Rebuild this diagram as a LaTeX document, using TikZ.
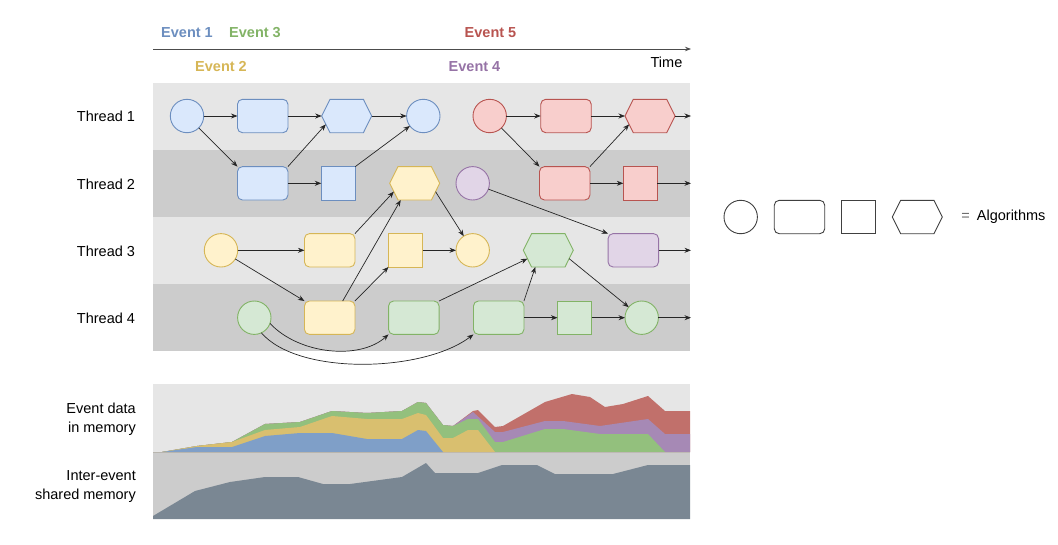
\documentclass[tikz,border=0pt]{standalone}
\usepackage{fontspec}
\setmainfont{Liberation Sans}
\usetikzlibrary{arrows.meta,calc}
\definecolor{bluef}{HTML}{DAE8FC}\definecolor{blued}{HTML}{6C8EBF}
\definecolor{yelf}{HTML}{FFF2CC}\definecolor{yeld}{HTML}{D6B656}
\definecolor{grnf}{HTML}{D5E8D4}\definecolor{grnd}{HTML}{82B366}
\definecolor{redf}{HTML}{F8CECC}\definecolor{redd}{HTML}{B85450}
\definecolor{purf}{HTML}{E1D5E7}\definecolor{purd}{HTML}{9673A6}
\definecolor{bandL}{HTML}{E6E6E6}\definecolor{bandD}{HTML}{CCCCCC}
\definecolor{chBlue}{HTML}{7F9FC8}\definecolor{chYel}{HTML}{D9BF6F}
\definecolor{chGrn}{HTML}{93C07D}\definecolor{chPur}{HTML}{A689B5}
\definecolor{chRed}{HTML}{C1706B}\definecolor{chGray}{HTML}{7A8793}
\tikzset{
  lbl/.style={font=\fontsize{14.5}{17}\selectfont, inner sep=0pt},
  evt/.style={font=\fontsize{14.5}{17}\selectfont\bfseries, inner sep=0pt},
  alg/.style={line width=0.9pt, inner sep=0pt, outer sep=0pt},
  circ/.style={alg, circle, minimum size=33.4pt},
  rrect/.style={alg, rectangle, rounded corners=5pt, minimum width=50.5pt, minimum height=33.4pt},
  sq/.style={alg, rectangle, minimum width=34pt, minimum height=33.4pt},
  hexb/.style={alg, rectangle, minimum width=50pt, minimum height=33.4pt},
  cb/.style={fill=bluef, draw=blued}, cy/.style={fill=yelf, draw=yeld},
  cg/.style={fill=grnf, draw=grnd}, cr/.style={fill=redf, draw=redd},
  cp/.style={fill=purf, draw=purd}, cl/.style={fill=white, draw=black!75},
  arr/.style={-{Stealth[length=6.5pt,width=5pt]}, line width=0.7pt, black!85},
}
\newcommand{\hexa}[5]{%
  \node[hexb] (#1) at (#2,#3) {};
  \draw[line width=0.9pt, fill=#4, draw=#5] (#2-25,#3) -- (#2-16.7,#3-16.7) -- (#2+16.7,#3-16.7) -- (#2+25,#3) -- (#2+16.7,#3+16.7) -- (#2-16.7,#3+16.7) -- cycle;
  \coordinate (#1-ll) at (#2-20.85,#3+8.35);
  \coordinate (#1-lr) at (#2+20.85,#3+8.35);
}
\begin{document}
\begin{tikzpicture}[x=1pt,y=-1pt]
\useasboundingbox (0,0) rectangle (1058,544);
% time axis
\coordinate (t0) at (153,49);
\coordinate (t1) at (691,49);
\draw[-{Stealth[length=6pt,width=4.5pt]}, line width=0.8pt, black!70] (t0) -- (t1);
\node[lbl] (time) at (666.5,62) {Time};
\node[evt, text=blued] (ev1) at (187,32.5) {Event 1};
\node[evt, text=grnd] (ev3) at (255,32.5) {Event 3};
\node[evt, text=redd] (ev5) at (490.5,32.5) {Event 5};
\node[evt, text=yeld] (ev2) at (221,67) {Event 2};
\node[evt, text=purd] (ev4) at (474.5,67) {Event 4};
% bands
\fill[bandL] (153,83) rectangle (690,150);
\fill[bandD] (153,150) rectangle (690,217);
\fill[bandL] (153,217) rectangle (690,284);
\fill[bandD] (153,284) rectangle (690,351);
\node[lbl] (th1) at (106,116.5) {Thread 1};
\node[lbl] (th2) at (106,184) {Thread 2};
\node[lbl] (th3) at (106,251) {Thread 3};
\node[lbl] (th4) at (106,318) {Thread 4};
% thread 1
\node[circ,cb] (a1) at (187,116) {};
\node[rrect,cb] (a2) at (262.7,116) {};
\hexa{a3}{346.7}{116}{bluef}{blued}
\node[circ,cb] (a4) at (423.3,116) {};
\node[circ,cr] (e1) at (489.7,116) {};
\node[rrect,cr] (e2) at (566,116) {};
\hexa{e3}{650}{116}{redf}{redd}
% thread 2
\node[rrect,cb] (b1) at (262.7,183.3) {};
\node[sq,cb] (b2) at (338.3,183.3) {};
\hexa{y1}{414.7}{183.3}{yelf}{yeld}
\node[circ,cp] (p1) at (472.7,183.3) {};
\node[rrect,cr] (e4) at (564.7,183.3) {};
\node[sq,cr] (e5) at (640.3,183.3) {};
% thread 3
\node[circ,cy] (y2) at (221,250.3) {};
\node[rrect,cy] (y3) at (329.7,250.3) {};
\node[sq,cy] (y4) at (405.5,250.3) {};
\node[circ,cy] (y5) at (472.7,250.3) {};
\hexa{g1}{548.3}{250.3}{grnf}{grnd}
\node[rrect,cp] (p2) at (633.3,250.3) {};
% thread 4
\node[circ,cg] (g2) at (254.3,317.7) {};
\node[rrect,cy] (y6) at (329.7,317.7) {};
\node[rrect,cg] (g3) at (413.8,317.7) {};
\node[rrect,cg] (g4) at (498.7,317.7) {};
\node[sq,cg] (g5) at (574.5,317.7) {};
\node[circ,cg] (g6) at (641.7,317.7) {};
\coordinate (o1) at (691,116);
\coordinate (o2) at (691,183.3);
\coordinate (o3) at (691,250.3);
\coordinate (o4) at (691,317.7);
% connectors
\draw[arr] (a1) -- (a2);
\draw[arr] (a1) -- (b1.north west);
\draw[arr] (a2) -- (a3.west);
\draw[arr] (b1.north east) -- (a3-ll);
\draw[arr, line width=1.2pt] (b1) -- (b2);
\draw[arr] (b2.north east) -- (a4);
\draw[arr] (a3.east) -- (a4);
\draw[arr] (e1) -- (e2);
\draw[arr] (e2) -- (e3.west);
\draw[arr] (e3.east) -- (o1);
\draw[arr] (e1) -- (e4.north west);
\draw[arr] (e4.north east) -- (e3-ll);
\draw[arr] (e4) -- (e5);
\draw[arr] (e5) -- (o2);
\draw[arr] (y2) -- (y3);
\draw[arr] (y2) -- (y6.north west);
\draw[arr] (y3.north east) -- (y1-ll);
\draw[arr] ($(y6.north)+(13,0)$) -- ($(y1.south)+(-14,0)$);
\draw[arr] (y6.north east) -- (y4.south west);
\draw[arr] (y4) -- (y5);
\draw[arr] (y1-lr) -- (y5);
\draw[arr] (p1) -- (p2.north west);
\draw[arr] (p2) -- (o3);
\draw[arr] (g2.-20) .. controls ($(g2.-20)+(29,31)$) and ($(g3.south west)+(-29,26)$) .. (g3.south west);
\draw[arr] (g2.-65) .. controls ($(g2.-65)+(37,43)$) and ($(g4.south west)+(-50,38)$) .. (g4.south west);
\draw[arr] (g3.north east) -- (g1-ll);
\draw[arr] (g4.north east) -- ($(g1.south)+(-13,0)$);
\draw[arr] (g4) -- (g5);
\draw[arr] (g5) -- (g6);
\draw[arr] (g1-lr) -- (g6);
\draw[arr] (g6) -- (o4);
% legend
\node[circ,cl] (l1) at (740.7,217) {};
\node[rrect,cl] (l2) at (799.5,217) {};
\node[sq,cl] (l3) at (858.3,217) {};
\hexa{l4}{917.3}{217}{white}{black!75}
\node[lbl, text=black!60] (leq) at (965.7,217) {=};
\node[lbl, anchor=west] (lalg) at (976.7,217) {Algorithms};
% memory chart
\fill[bandL] (153,384) rectangle (690,452);
\fill[bandD] (153,452) rectangle (690,519);
\fill[chRed] (153,452) -- (162,452) -- (197,446) -- (232,442) -- (265,424) -- (300,422) -- (332,411) -- (367,413) -- (402,411) -- (418,402) -- (426,403) -- (443,425) -- (453,426) -- (473,411) -- (478,410) -- (495,427) -- (503,426) -- (545,402) -- (572,394) -- (590,397) -- (605,407) -- (623,404) -- (648,396) -- (665,411) -- (690,411) -- (690,452) -- cycle;
\fill[chPur] (153,452) -- (162,452) -- (197,446) -- (232,442) -- (265,424) -- (300,422) -- (332,411) -- (367,413) -- (402,411) -- (418,402) -- (426,403) -- (443,425) -- (453,426) -- (473,412) -- (495,432) -- (503,432) -- (545,421) -- (563,421) -- (600,426) -- (648,419) -- (665,434) -- (690,434) -- (690,452) -- cycle;
\fill[chGrn] (153,452) -- (162,452) -- (197,446) -- (232,442) -- (265,424) -- (300,422) -- (332,411) -- (367,413) -- (402,411) -- (418,402) -- (426,403) -- (443,425) -- (453,426) -- (468,419) -- (478,419) -- (495,442) -- (503,442) -- (545,429) -- (563,429) -- (600,434) -- (648,434) -- (665,452) -- (690,452) -- cycle;
\fill[chYel] (153,452) -- (162,452) -- (197,446) -- (232,442) -- (265,430) -- (300,427) -- (332,416) -- (367,419) -- (402,419) -- (418,413) -- (426,415) -- (443,438) -- (453,438) -- (468,430) -- (478,430) -- (495,452) -- cycle;
\fill[chBlue] (153,452) -- (162,452) -- (197,447) -- (232,447) -- (265,436) -- (300,433) -- (332,433) -- (367,439) -- (402,439) -- (418,430) -- (426,431) -- (443,452) -- cycle;
\fill[chGray] (153,516) -- (195,491) -- (230,482) -- (265,477) -- (298,477) -- (323,484) -- (350,484) -- (402,477) -- (426,463) -- (435,473) -- (478,473) -- (502,465) -- (537,465) -- (555,474) -- (613,474) -- (648,465) -- (690,465) -- (690,519) -- (153,519) -- cycle;
\node[lbl, anchor=east, align=right, font=\fontsize{14.5}{19}\selectfont] (mem1) at (136,419.5) {Event data\\in memory};
\node[lbl, anchor=east, align=right, font=\fontsize{14.5}{19}\selectfont] (mem2) at (136,486.7) {Inter-event\\shared memory};
\end{tikzpicture}
\end{document}
